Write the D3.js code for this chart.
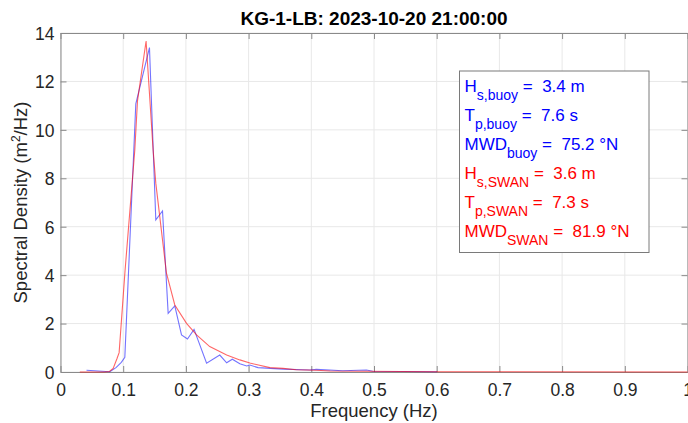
<!DOCTYPE html>
<html>
<head>
<meta charset="utf-8">
<script src="https://cdn.jsdelivr.net/npm/d3@7"></script>
<style>
  html, body { margin: 0; padding: 0; background: #fff; }
  svg { display: block; font-family: "Liberation Sans", Arial, sans-serif; }
</style>
</head>
<body>
<svg id="chart" width="688" height="423"></svg>
<script>
// ---- data ----
const titleText = "KG-1-LB: 2023-10-20 21:00:00";
const xTicks = [0, 0.1, 0.2, 0.3, 0.4, 0.5, 0.6, 0.7, 0.8, 0.9, 1];
const yTicks = [0, 2, 4, 6, 8, 10, 12, 14];

const buoyFreq = [0.0415, 0.06, 0.0786, 0.0885, 0.097, 0.1026, 0.1201, 0.1419, 0.152, 0.1627,
  0.1717, 0.1823, 0.193, 0.2025, 0.213, 0.233, 0.254, 0.265, 0.274, 0.286,
  0.297, 0.302, 0.315, 0.355, 0.398, 0.408, 0.45, 0.488, 0.498, 0.55, 0.6007];
const buoyS = [0.07, 0.04, 0.01, 0.18, 0.40, 0.61, 11.07, 13.4, 6.28, 6.65,
  2.42, 2.73, 1.53, 1.36, 1.76, 0.36, 0.70, 0.38, 0.53, 0.34,
  0.25, 0.29, 0.18, 0.12, 0.08, 0.11, 0.05, 0.08, 0.03, 0.02, 0.01];

const swanFreq = [0.0308, 0.07, 0.078, 0.084, 0.0903, 0.0935, 0.103, 0.1185, 0.1228, 0.1365,
  0.1477, 0.152, 0.169, 0.1823, 0.201, 0.217, 0.238, 0.265, 0.286, 0.302,
  0.334, 0.355, 0.376, 0.408, 0.43, 0.488, 0.6, 1.0];
const swanS = [0.0, 0.0, 0.02, 0.15, 0.57, 0.80, 4.2, 9.17, 11.2, 13.67,
  9.17, 7.8, 4.08, 2.77, 2.01, 1.53, 1.05, 0.70, 0.50, 0.37,
  0.18, 0.15, 0.09, 0.07, 0.04, 0.03, 0.01, 0.003];

const legendLines = [
  {main: "H", sub: "s,buoy", rest: " =  3.4 m", color: "#0000ff"},
  {main: "T", sub: "p,buoy", rest: " =  7.6 s", color: "#0000ff"},
  {main: "MWD", sub: "buoy", rest: " =  75.2 \u00B0N", color: "#0000ff"},
  {main: "H", sub: "s,SWAN", rest: " =  3.6 m", color: "#ff0000"},
  {main: "T", sub: "p,SWAN", rest: " =  7.3 s", color: "#ff0000"},
  {main: "MWD", sub: "SWAN", rest: " =  81.9 \u00B0N", color: "#ff0000"}
];

// ---- layout ----
const W = 688, H = 423;
const L = 60.5, R = 687.5, T = 33, B = 372;
const svg = d3.select("#chart");

const x = d3.scaleLinear().domain([0, 1]).range([L, R]);
const y = d3.scaleLinear().domain([0, 14]).range([B, T]);

// grid
const g = svg.append("g");
g.selectAll(".gx").data(xTicks).join("line")
  .attr("x1", d => x(d)).attr("x2", d => x(d)).attr("y1", T).attr("y2", B)
  .attr("stroke", "#e8e8e8").attr("stroke-width", 1);
g.selectAll(".gy").data(yTicks).join("line")
  .attr("y1", d => y(d)).attr("y2", d => y(d)).attr("x1", L).attr("x2", R)
  .attr("stroke", "#e8e8e8").attr("stroke-width", 1);

// axes (MATLAB style: inward ticks, box)
const axisColor = "#8a8a8a";
const tickLen = 6;
const xAxisB = d3.axisBottom(x).tickValues(xTicks).tickSizeInner(-tickLen).tickSizeOuter(0)
  .tickFormat(d => d === 0 ? "0" : (d === 1 ? "1" : d3.format(".1f")(d)));
const gxB = svg.append("g").attr("transform", `translate(0,${B})`).call(xAxisB);
gxB.select(".domain").attr("stroke", axisColor);
gxB.selectAll(".tick line").attr("stroke", axisColor);
gxB.selectAll(".tick text").attr("fill", "#262626").attr("font-size", "17.5px")
  .attr("y", 23.5).attr("dy", 0);

const xAxisT = d3.axisTop(x).tickValues(xTicks).tickSizeInner(-tickLen).tickSizeOuter(0).tickFormat("");
const gxT = svg.append("g").attr("transform", `translate(0,${T})`).call(xAxisT);
gxT.select(".domain").attr("stroke", axisColor);
gxT.selectAll(".tick line").attr("stroke", axisColor);

const yAxisL = d3.axisLeft(y).tickValues(yTicks).tickSizeInner(-tickLen).tickSizeOuter(0);
const gyL = svg.append("g").attr("transform", `translate(${L},0)`).call(yAxisL);
gyL.select(".domain").attr("stroke", axisColor);
gyL.selectAll(".tick line").attr("stroke", axisColor);
gyL.selectAll(".tick text").attr("fill", "#262626").attr("font-size", "17.5px")
  .attr("x", -6).attr("dy", "0.36em");

const yAxisR = d3.axisRight(y).tickValues(yTicks).tickSizeInner(-tickLen).tickSizeOuter(0).tickFormat("");
const gyR = svg.append("g").attr("transform", `translate(${R},0)`).call(yAxisR);
gyR.select(".domain").attr("stroke", axisColor);
gyR.selectAll(".tick line").attr("stroke", axisColor);

svg.selectAll(".domain").attr("stroke-width", 1);

// lines
const line = d3.line().x(d => x(d[0])).y(d => y(d[1]));
const buoyData = buoyFreq.map((f, i) => [f, buoyS[i]]);
const swanData = swanFreq.map((f, i) => [f, swanS[i]]);

svg.append("path").datum(buoyData).attr("d", line)
  .attr("fill", "none").attr("stroke", "rgba(0,0,255,0.55)").attr("stroke-width", 1.1);
svg.append("path").datum(swanData).attr("d", line)
  .attr("fill", "none").attr("stroke", "rgba(255,0,0,0.6)").attr("stroke-width", 1.1);

// title
svg.append("text").attr("x", (L + R) / 2).attr("y", 25)
  .attr("text-anchor", "middle").attr("font-weight", "bold").attr("font-size", "19px")
  .attr("fill", "#000").text(titleText);

// axis labels
svg.append("text").attr("x", (L + R) / 2).attr("y", 417)
  .attr("text-anchor", "middle").attr("font-size", "18.5px").attr("fill", "#262626")
  .text("Frequency (Hz)");

const yl = svg.append("text")
  .attr("transform", `translate(27,${(T + B) / 2}) rotate(-90)`)
  .attr("text-anchor", "middle").attr("font-size", "18.5px").attr("fill", "#262626");
yl.append("tspan").text("Spectral Density (m");
yl.append("tspan").attr("font-size", "12px").attr("dy", -7).text("2");
yl.append("tspan").attr("dy", 7).text("/Hz)");

// legend box
const box = {x0: 459.5, y0: 71, x1: 649, y1: 252.5};
svg.append("rect").attr("x", box.x0).attr("y", box.y0)
  .attr("width", box.x1 - box.x0).attr("height", box.y1 - box.y0)
  .attr("fill", "#fff").attr("stroke", "#7a7a7a").attr("stroke-width", 1);

const lg = svg.append("g");
legendLines.forEach((d, i) => {
  const t = lg.append("text").attr("x", 464.5).attr("y", 91.7 + i * 29)
    .attr("fill", d.color).attr("font-size", "17px").style("white-space", "pre");
  t.append("tspan").text(d.main);
  t.append("tspan").attr("font-size", "14px").attr("dy", 8).text(d.sub);
  t.append("tspan").attr("dy", -8).text(d.rest);
});
</script>
</body>
</html>
